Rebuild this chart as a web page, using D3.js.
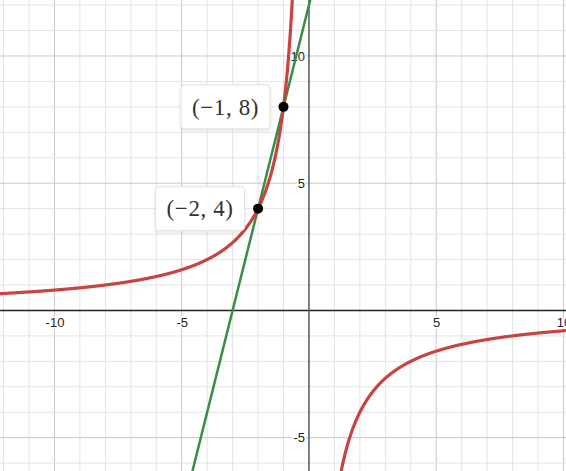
<!DOCTYPE html>
<html>
<head>
<meta charset="utf-8">
<script src="https://cdn.jsdelivr.net/npm/d3@7"></script>
<style>
  body { margin: 0; background: #fff; }
  svg { display: block; }
</style>
</head>
<body>
<div id="graph"></div>
<script>
// visible window of the graph
const xDomain = [-12.14, 10.1];
const yDomain = [12.2, -6.31];

// tick labels on the axes
const xTickLabels = [-10, -5, 5, 10];
const yTickLabels = [10, 5, -5];

// red curve: y = k / x
const curveK = -8;
// green line: y = slope * x + intercept
const lineSlope = 4;
const lineIntercept = 12;

// labelled points
const pointX = [-1, -2];
const pointY = [8, 4];
const pointText = ["(\u22121, 8)", "(\u22122, 4)"];

const width = 566, height = 471;

const svg = d3.select("#graph")
    .append("svg")
    .attr("width", width)
    .attr("height", height);

const x = d3.scaleLinear().domain(xDomain).range([0, width]);
const y = d3.scaleLinear().domain(yDomain).range([0, height]);

const defs = svg.append("defs");
defs.append("clipPath").attr("id", "clip")
    .append("rect").attr("width", width).attr("height", height);

const shadow = defs.append("filter").attr("id", "shadow")
    .attr("x", "-20%").attr("y", "-20%").attr("width", "140%").attr("height", "150%");
shadow.append("feDropShadow")
    .attr("dx", 0).attr("dy", 1).attr("stdDeviation", 1.5)
    .attr("flood-color", "#000").attr("flood-opacity", 0.15);

// grid lines, minor every 1, major every 5
const xGrid = d3.range(Math.ceil(xDomain[0]), Math.floor(xDomain[1]) + 1);
const yGrid = d3.range(Math.ceil(yDomain[1]), Math.floor(yDomain[0]) + 1);

const grid = svg.append("g");
grid.selectAll(".vx")
    .data(xGrid.filter(d => d !== 0))
    .join("line")
    .attr("x1", d => x(d)).attr("x2", d => x(d))
    .attr("y1", 0).attr("y2", height)
    .attr("stroke", d => d % 5 === 0 ? "#c8c8c8" : "#e4e4e4")
    .attr("stroke-width", 1);
grid.selectAll(".hy")
    .data(yGrid.filter(d => d !== 0))
    .join("line")
    .attr("y1", d => y(d)).attr("y2", d => y(d))
    .attr("x1", 0).attr("x2", width)
    .attr("stroke", d => d % 5 === 0 ? "#c8c8c8" : "#e4e4e4")
    .attr("stroke-width", 1);

// axes lines
svg.append("line")
    .attr("x1", 0).attr("x2", width)
    .attr("y1", y(0)).attr("y2", y(0))
    .attr("stroke", "#222").attr("stroke-width", 1.5);
svg.append("line")
    .attr("x1", x(0)).attr("x2", x(0))
    .attr("y1", 0).attr("y2", height)
    .attr("stroke", "#555").attr("stroke-width", 1.5);

// tick labels via d3 axes
const xAxis = svg.append("g")
    .attr("transform", `translate(0,${y(0)})`)
    .call(d3.axisBottom(x).tickValues(xTickLabels).tickSize(0).tickPadding(7.5).tickFormat(d => String(d)));
const yAxis = svg.append("g")
    .attr("transform", `translate(${x(0)},0)`)
    .call(d3.axisLeft(y).tickValues(yTickLabels).tickSize(0).tickPadding(4).tickFormat(d => String(d)));

[xAxis, yAxis].forEach(ax => {
    ax.select(".domain").remove();
    ax.selectAll("text")
        .attr("font-family", "Liberation Sans, Arial, sans-serif")
        .attr("font-size", 13)
        .attr("fill", "#222")
        .attr("stroke", "#fff")
        .attr("stroke-width", 3)
        .attr("paint-order", "stroke");
});

const plot = svg.append("g").attr("clip-path", "url(#clip)");

// green line
plot.append("line")
    .attr("x1", x(xDomain[0])).attr("y1", y(lineSlope * xDomain[0] + lineIntercept))
    .attr("x2", x(xDomain[1])).attr("y2", y(lineSlope * xDomain[1] + lineIntercept))
    .attr("stroke", "#388c46")
    .attr("stroke-width", 2.5);

// red curve, two branches
const curve = d3.line()
    .x(d => x(d))
    .y(d => y(curveK / d));
const leftBranch = d3.range(xDomain[0], -0.5, 0.01);
const rightBranch = d3.range(0.5, xDomain[1] + 0.01, 0.01);
[leftBranch, rightBranch].forEach(b => {
    plot.append("path")
        .datum(b)
        .attr("fill", "none")
        .attr("stroke", "#c74440")
        .attr("stroke-width", 3.2)
        .attr("stroke-linejoin", "round")
        .attr("d", curve);
});

// points
plot.selectAll(".pt")
    .data(pointX)
    .join("circle")
    .attr("cx", d => x(d))
    .attr("cy", (d, i) => y(pointY[i]))
    .attr("r", 5)
    .attr("fill", "#000");

// point labels
const labels = svg.selectAll(".lbl")
    .data(pointX)
    .join("g")
    .attr("transform", (d, i) => `translate(${x(d) - 13.5},${y(pointY[i])})`);

labels.each(function (d, i) {
    const g = d3.select(this);
    const rect = g.append("rect");
    const t = g.append("text")
        .attr("text-anchor", "end")
        .attr("x", -11)
        .attr("dy", "0.34em")
        .attr("font-family", "Liberation Serif, Times New Roman, serif")
        .attr("font-size", 23)
        .attr("letter-spacing", 0.6)
        .attr("fill", "#333")
        .text(pointText[i]);
    const bb = t.node().getBBox();
    rect.attr("x", bb.x - 11)
        .attr("y", -22)
        .attr("width", bb.width + 22)
        .attr("height", 44)
        .attr("rx", 4)
        .attr("fill", "#fff")
        .attr("stroke", "#e2e2e2")
        .attr("filter", "url(#shadow)");
});
</script>
</body>
</html>
